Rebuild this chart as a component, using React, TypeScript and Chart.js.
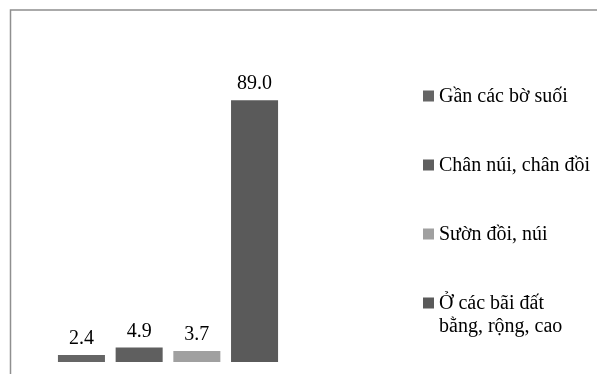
import React, { useEffect, useRef } from "react";
import { Chart, registerables } from "chart.js";

Chart.register(...registerables);

const categories = [
  "Gần các bờ suối",
  "Chân núi, chân đồi",
  "Sườn đồi, núi",
  "Ở các bãi đất bằng, rộng, cao",
];
const legendLines = [
  ["Gần các bờ suối"],
  ["Chân núi, chân đồi"],
  ["Sườn đồi, núi"],
  ["Ở các bãi đất", "bằng, rộng, cao"],
];
const values = [2.4, 4.9, 3.7, 89.0];
const colors = ["#656565", "#5f5f5f", "#a0a0a0", "#5a5a5a"];

const FONT = '"Liberation Serif", "Times New Roman", serif';

// Outer frame: top and left edges of the chart box
const framePlugin = {
  id: "frame",
  beforeDraw(chart: any) {
    const { ctx, width, height } = chart;
    ctx.save();
    ctx.strokeStyle = "#8f8f8f";
    ctx.lineWidth = 1.5;
    ctx.beginPath();
    ctx.moveTo(width, 10);
    ctx.lineTo(10.5, 10);
    ctx.lineTo(10.5, height);
    ctx.stroke();
    ctx.restore();
  },
};

// Value labels above each bar
const valueLabelPlugin = {
  id: "valueLabels",
  afterDatasetsDraw(chart: any) {
    const { ctx } = chart;
    const meta = chart.getDatasetMeta(0);
    ctx.save();
    ctx.font = `20px ${FONT}`;
    ctx.fillStyle = "#000";
    ctx.textAlign = "center";
    ctx.textBaseline = "alphabetic";
    meta.data.forEach((bar: any, i: number) => {
      ctx.fillText(values[i].toFixed(1), bar.x, bar.y - 11);
    });
    ctx.restore();
  },
};

// Legend on the right, one entry per category
const sideLegendPlugin = {
  id: "sideLegend",
  afterDraw(chart: any) {
    const { ctx, width } = chart;
    const boxX = width - 174;
    const textX = boxX + 16;
    const firstY = 96;
    const step = 69;
    const lineH = 23;
    ctx.save();
    ctx.font = `20px ${FONT}`;
    ctx.textAlign = "left";
    ctx.textBaseline = "middle";
    legendLines.forEach((lines, i) => {
      const cy = firstY + i * step;
      ctx.fillStyle = colors[i];
      ctx.fillRect(boxX, cy - 5.5, 11, 11);
      ctx.fillStyle = "#000";
      lines.forEach((t, j) => ctx.fillText(t, textX, cy + 1 + j * lineH));
    });
    ctx.restore();
  },
};

export default function App() {
  const ref = useRef<HTMLCanvasElement>(null);

  useEffect(() => {
    const chart = new Chart(ref.current!, {
      type: "bar",
      data: {
        labels: categories,
        datasets: [
          {
            data: values,
            backgroundColor: colors,
            borderWidth: 0,
            barPercentage: 0.815,
            categoryPercentage: 1,
          },
        ],
      },
      options: {
        animation: false,
        responsive: false,
        maintainAspectRatio: false,
        layout: { padding: { left: 52.6, right: 313.6, top: 68, bottom: 12 } },
        plugins: { legend: { display: false }, tooltip: { enabled: false } },
        scales: {
          x: { display: false },
          y: { display: false, min: 0, max: 100 },
        },
      },
      plugins: [framePlugin, valueLabelPlugin, sideLegendPlugin],
    });
    return () => chart.destroy();
  }, []);

  return (
    <div style={{ position: "fixed", left: 0, top: 0, width: 597, height: 374, background: "#fff" }}>
      <canvas ref={ref} width={597} height={374} style={{ display: "block" }} />
    </div>
  );
}
